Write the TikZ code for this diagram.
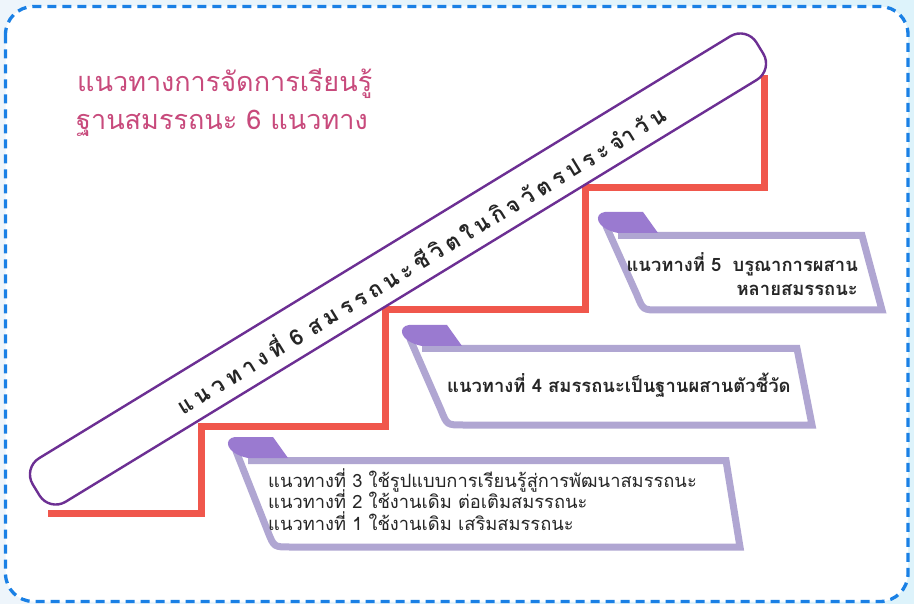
\documentclass[tikz,border=0pt]{standalone}
\usepackage{fontspec}
\newfontfamily\thai[Script=Thai]{Loma}
\definecolor{frameblue}{HTML}{1A80E5}
\definecolor{stairred}{HTML}{F0574C}
\definecolor{banpurple}{HTML}{6C2F93}
\definecolor{titlepink}{HTML}{C84A7C}
\definecolor{ribbon}{HTML}{B0A6D2}
\definecolor{tabpurple}{HTML}{9A7AD0}
\definecolor{txtdark}{HTML}{262626}
\definecolor{bgL}{HTML}{EEF5FB}
\definecolor{bgR}{HTML}{DDF3FB}
\newcommand\lsp{\hspace{4.6pt}}
\newcommand\scrollbox[6]{%
  \draw[ribbonline] (#1+14,#2+23.5) -- (#3,#2+23.5) -- (#4,#5) -- (#6+16,#5)
     .. controls (#6,#5) .. (#6-6,#5-15) -- (#1+2,#2+14);
  \fill[tabpurple] (#1+54,#2+21) -- (#1+39,#2) -- (#1+1,#2)
     .. controls (#1-10,#2+1) and (#1-10,#2+16) .. (#1+14,#2+21) -- cycle;
}
\begin{document}
\begin{tikzpicture}[x=1pt,y=-1pt,
  framestyle/.style={draw=frameblue,line width=3.3pt,dash pattern=on 9pt off 6pt,rounded corners=28pt,fill=white},
  stairline/.style={draw=stairred,line width=7pt,line join=miter},
  bannerbox/.style={draw=banpurple,line width=2.4pt,fill=white,rounded corners=19pt,
     minimum width=848pt,minimum height=51pt,inner sep=0pt},
  ribbonline/.style={draw=ribbon,line width=7pt,line join=miter},
  titletxt/.style={font=\thai\fontsize{27}{32}\selectfont,text=titlepink,inner sep=0pt,anchor=base west},
  boxtxt/.style={font=\thai\bfseries\fontsize{18.4}{24}\selectfont,text=txtdark,inner sep=0pt},
  boxtxtlight/.style={font=\thai\fontsize{18.3}{22}\selectfont,text=txtdark,inner sep=0pt,anchor=base west},
  bantxt/.style={font=\thai\bfseries\fontsize{22}{26}\selectfont,text=txtdark,inner sep=0pt}
]
\useasboundingbox (0,0) rectangle (914,604);
\shade[left color=bgL,right color=bgR] (0,0) rectangle (914,604);
\path[framestyle] (5.5,6.5) rectangle (908,601.5);

% title
\node[titletxt] (title1) at (77,92) {แนวทางการจัดการเรียนรู้};
\node[titletxt] (title2) at (76,130) {ฐานสมรรถนะ 6 แนวทาง};

% staircase
\draw[stairline] (48,513) -- (201.5,513) -- (201.5,426.5) -- (385,426.5) -- (385,310)
  -- (585.5,310) -- (585.5,187.5) -- (764.5,187.5) -- (764.5,75);

% banner
\node[bannerbox,rotate=31.4] (banner) at (398,269) {};
\node[bantxt,rotate=31.4] (bannertext) at (420,258)
  {แ\lsp น\lsp ว\lsp ท\lsp า\lsp ง\lsp ที่\lsp\lsp 6\lsp\lsp ส\lsp ม\lsp ร\lsp ร\lsp ถ\lsp น\lsp ะ\lsp ชี\lsp วิ\lsp ต\lsp ใ\lsp น\lsp กิ\lsp จ\lsp วั\lsp ต\lsp ร\lsp ป\lsp ร\lsp ะ\lsp จำ\lsp วั\lsp น};

% ribbons
\scrollbox{604}{212}{862}{882}{310}{643}
\scrollbox{408}{325}{797}{812}{425}{447}
\scrollbox{234}{437}{726}{740}{547}{274}

% texts
\node[boxtxt,align=right,anchor=north east] (t5) at (858,252)
  {แนวทางที่ 5\hspace{5pt} บรูณาการผสาน\\หลายสมรรถนะ};
\node[boxtxt,anchor=base west] (t4) at (447,392) {แนวทางที่ 4 สมรรถนะเป็นฐานผสานตัวชี้วัด};
\node[boxtxtlight] (t3) at (268,487) {แนวทางที่ 3 ใช้รูปแบบการเรียนรู้สู่การพัฒนาสมรรถนะ};
\node[boxtxtlight] (t2) at (268,508.5) {แนวทางที่ 2 ใช้งานเดิม ต่อเติมสมรรถนะ};
\node[boxtxtlight] (t1) at (268,530) {แนวทางที่ 1 ใช้งานเดิม เสริมสมรรถนะ};
\end{tikzpicture}
\end{document}
